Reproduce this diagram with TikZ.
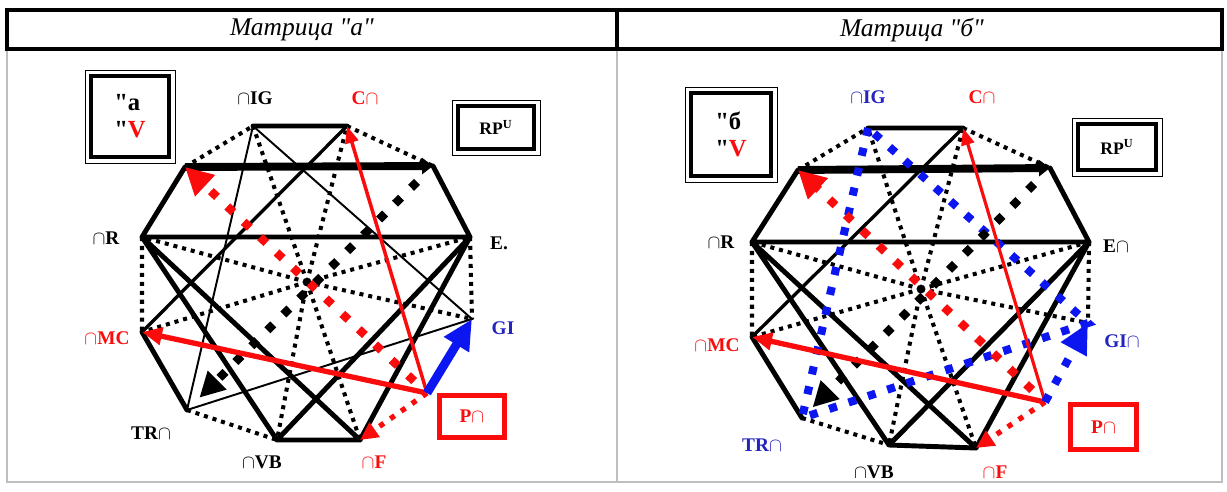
\documentclass[tikz,border=0pt]{standalone}
\usepackage{amsmath}
\usepackage{fontspec}
\setmainfont{Liberation Serif}
\usepackage{tikz}
\usetikzlibrary{arrows.meta,positioning}
\usepackage{xcolor}
\definecolor{mxred}{RGB}{250,12,12}
\definecolor{mxblue}{RGB}{12,22,240}
\definecolor{mxtextblue}{RGB}{35,35,190}
\definecolor{mxgray}{RGB}{190,190,190}
\tikzstyle{edge} = [line width=2.8pt, line cap=round, line join=round]
\tikzstyle{midedge} = [line width=1.9pt, line cap=round]
\tikzstyle{thinedge} = [line width=1.1pt]
\tikzstyle{dotline} = [line width=2.3pt, dash pattern=on 2.3pt off 2.8pt]
\tikzstyle{diamondline} = [line width=4.8pt, dash pattern=on 4.8pt off 8pt]
\tikzstyle{squareline} = [line width=4.6pt, dash pattern=on 4.6pt off 7pt]
\tikzstyle{keyarrow} = [line width=4.5pt, -{Triangle[length=0.22cm,width=0.32cm]}]
\tikzstyle{lbl} = [font=\fontsize{11}{13}\selectfont\bfseries, inner sep=1pt]
\tikzstyle{keybox} = [draw, line width=2.8pt, outer sep=0pt, align=left, font=\fontsize{14}{15.5}\selectfont\bfseries]
\tikzstyle{rpbox} = [draw, line width=2.8pt, outer sep=0pt, font=\fontsize{10}{12}\selectfont\bfseries]
\tikzstyle{pbox} = [draw=mxred, line width=2.8pt, outer sep=0pt, text=mxred, font=\fontsize{11}{13}\selectfont\bfseries]
\tikzstyle{titlebox} = [draw, line width=2.3pt, outer sep=0pt]

\begin{document}
\begin{tikzpicture}[x=0.02cm, y=-0.02cm]
    \useasboundingbox (0,0) rectangle (1227,491);

    % Table
    \draw[mxgray, line width=0.8pt] (7,49) rectangle (1222,482);
    \draw[mxgray, line width=0.8pt] (617,49) -- (617,482);
    \node[titlebox, minimum width=12.2cm, minimum height=0.78cm] (aHead) at (312,29.5) {};
    \node[titlebox, minimum width=12.1cm, minimum height=0.78cm] (bHead) at (919.5,29.5) {};
    \node[font=\fontsize{14.5}{16}\selectfont\itshape] (aTitle) at (302,30) {Матрица \textquotedbl а\textquotedbl};
    \node[font=\fontsize{14.5}{16}\selectfont\itshape] (bTitle) at (912,30) {Матрица \textquotedbl б\textquotedbl};

    % Matrix a
    \coordinate (aIG) at (253,126);
    \coordinate (aC) at (347,126);
    \coordinate (aRP) at (433,166);
    \coordinate (aE) at (470,237);
    \coordinate (aGI) at (472,319);
    \coordinate (aP) at (427,393);
    \coordinate (aF) at (360,440);
    \coordinate (aVB) at (277,440);
    \coordinate (aTR) at (187,410);
    \coordinate (aMC) at (142,332);
    \coordinate (aR) at (142,237);
    \coordinate (aV) at (185,167);
    \coordinate (aO) at (307,282);

    \draw[dotline] (aV) -- (aIG) (aC) -- (aRP) (aR) -- (aMC) (aE) -- (aGI) (aTR) -- (aVB);
    \draw[dotline] (aO) -- (aIG) (aO) -- (aC) (aO) -- (aR) (aO) -- (aE)
        (aO) -- (aMC) (aO) -- (aGI) (aO) -- (aVB) (aO) -- (aF);
    \draw[thinedge] (aIG) -- (aTR) -- (aGI) -- cycle;
    \draw[midedge] (aC) -- (aMC);
    \draw[edge] (aIG) -- (aC) (aRP) -- (aE) (aV) -- (aR) -- (aE) (aR) -- (aVB) -- (aF) -- (aR)
        (aE) -- (aVB) (aE) -- (aF) (aMC) -- (aTR);
    \draw[keyarrow] (aV) -- (aRP);
    \draw[diamondline, shorten <=0.45cm, shorten >=0.35cm, -{Triangle[length=0.5cm,width=0.5cm]}] (aRP) -- (aTR);
    \draw[diamondline, mxred, shorten <=0.35cm, -{Triangle[length=0.55cm,width=0.55cm]}] (aP) -- (aV);
    \draw[dotline, mxred, line width=3pt, dash pattern=on 3pt off 4.5pt, -{Triangle[length=0.36cm,width=0.34cm]}] (aP) -- (aF);
    \draw[mxred, line width=2pt, -{Triangle[length=0.34cm,width=0.26cm]}] (aP) -- (aC);
    \draw[mxred, line width=3pt, -{Triangle[length=0.4cm,width=0.34cm]}] (aP) -- (aMC);
    \draw[mxblue, line width=5pt, -{Triangle[length=0.6cm,width=0.55cm]}] (aP) -- (aGI);

    \node[lbl] (aIGlbl) at (255,98) {$\cap$IG};
    \node[lbl, mxred] (aClbl) at (365,98) {C$\cap$};
    \node[lbl] (aElbl) at (499,243) {E.};
    \node[lbl, mxtextblue] (aGIlbl) at (503,328) {GI};
    \node[lbl] (aRlbl) at (106,238) {$\cap$R};
    \node[lbl, mxred] (aMClbl) at (107,338) {$\cap$MC};
    \node[lbl] (aTRlbl) at (151,433) {TR$\cap$};
    \node[lbl] (aVBlbl) at (262,462) {$\cap$VB};
    \node[lbl, mxred] (aFlbl) at (374,462) {$\cap$F};

    \node[keybox, minimum width=1.56cm, minimum height=1.62cm] (aKey) at (130,116.5) {\textquotedbl а\\\textquotedbl\textcolor{mxred}{V}};
    \draw[line width=0.5pt] ([shift={(-6,-6)}]aKey.north west) rectangle ([shift={(6,6)}]aKey.south east);
    \node[rpbox, minimum width=1.52cm, minimum height=0.86cm] (aRPbox) at (496,127.5) {RP\textsuperscript{U}};
    \draw[line width=0.5pt] ([shift={(-6,-6)}]aRPbox.north west) rectangle ([shift={(6,6)}]aRPbox.south east);
    \node[pbox, minimum width=1.3cm, minimum height=0.84cm] (aPbox) at (472,416.5) {P$\cap$};

    % Matrix b
    \coordinate (bIG) at (868,128);
    \coordinate (bC) at (963,128);
    \coordinate (bRP) at (1050,168);
    \coordinate (bE) at (1089,242);
    \coordinate (bGI) at (1088,323);
    \coordinate (bP) at (1045,402);
    \coordinate (bF) at (976,448);
    \coordinate (bVB) at (889,445);
    \coordinate (bTR) at (802,418);
    \coordinate (bMC) at (752,337);
    \coordinate (bR) at (752,242);
    \coordinate (bV) at (798,170);
    \coordinate (bO) at (921,289);

    \draw[dotline] (bV) -- (bIG) (bC) -- (bRP) (bR) -- (bMC) (bE) -- (bGI) (bTR) -- (bVB);
    \draw[dotline] (bO) -- (bIG) (bO) -- (bC) (bO) -- (bR) (bO) -- (bE)
        (bO) -- (bMC) (bO) -- (bGI) (bO) -- (bVB) (bO) -- (bF);
    \draw[midedge] (bC) -- (bMC);
    \draw[edge] (bIG) -- (bC) (bRP) -- (bE) (bV) -- (bR) -- (bE) (bR) -- (bVB) -- (bF) -- (bR)
        (bE) -- (bVB) (bE) -- (bF) (bMC) -- (bTR);
    \draw[keyarrow] (bV) -- (bRP);
    \draw[squareline, mxblue] (bIG) -- (bTR) -- (bGI) -- cycle;
    \draw[diamondline, shorten <=0.45cm, shorten >=0.3cm, -{Triangle[length=0.5cm,width=0.5cm]}] (bRP) -- (bTR);
    \draw[diamondline, mxred, shorten <=0.35cm, -{Triangle[length=0.55cm,width=0.55cm]}] (bP) -- (bV);
    \draw[dotline, mxred, line width=3pt, dash pattern=on 3pt off 4.5pt, -{Triangle[length=0.36cm,width=0.34cm]}] (bP) -- (bF);
    \draw[mxred, line width=1.8pt, -{Triangle[length=0.34cm,width=0.26cm]}] (bP) -- (bC);
    \draw[mxred, line width=3pt, -{Triangle[length=0.4cm,width=0.34cm]}] (bP) -- (bMC);
    \draw[squareline, mxblue, -{Triangle[length=0.6cm,width=0.55cm]}] (bP) -- (bGI);

    \node[lbl, mxtextblue] (bIGlbl) at (868,97) {$\cap$IG};
    \node[lbl, mxred] (bClbl) at (982,97) {C$\cap$};
    \node[lbl] (bElbl) at (1116,246) {E$\cap$};
    \node[lbl, mxtextblue] (bGIlbl) at (1122,341) {GI$\cap$};
    \node[lbl] (bRlbl) at (721,242) {$\cap$R};
    \node[lbl, mxred] (bMClbl) at (717,345) {$\cap$MC};
    \node[lbl, mxtextblue] (bTRlbl) at (762,445) {TR$\cap$};
    \begin{scope}
        \clip (820,455) rectangle (930,477);
        \node[lbl] (bVBlbl) at (874,472) {$\cap$VB};
    \end{scope}
    \node[lbl, mxred] (bFlbl) at (995,472) {$\cap$F};

    \node[keybox, minimum width=1.6cm, minimum height=1.66cm] (bKey) at (731,134.5) {\textquotedbl б\\\textquotedbl\textcolor{mxred}{V}};
    \draw[line width=0.5pt] ([shift={(-6,-6)}]bKey.north west) rectangle ([shift={(6,6)}]bKey.south east);
    \node[rpbox, minimum width=1.56cm, minimum height=0.92cm] (bRPbox) at (1117,147) {RP\textsuperscript{U}};
    \draw[line width=0.5pt] ([shift={(-6,-6)}]bRPbox.north west) rectangle ([shift={(6,6)}]bRPbox.south east);
    \node[pbox, minimum width=1.32cm, minimum height=0.9cm] (bPbox) at (1103.5,427) {P$\cap$};
\end{tikzpicture}
\end{document}
